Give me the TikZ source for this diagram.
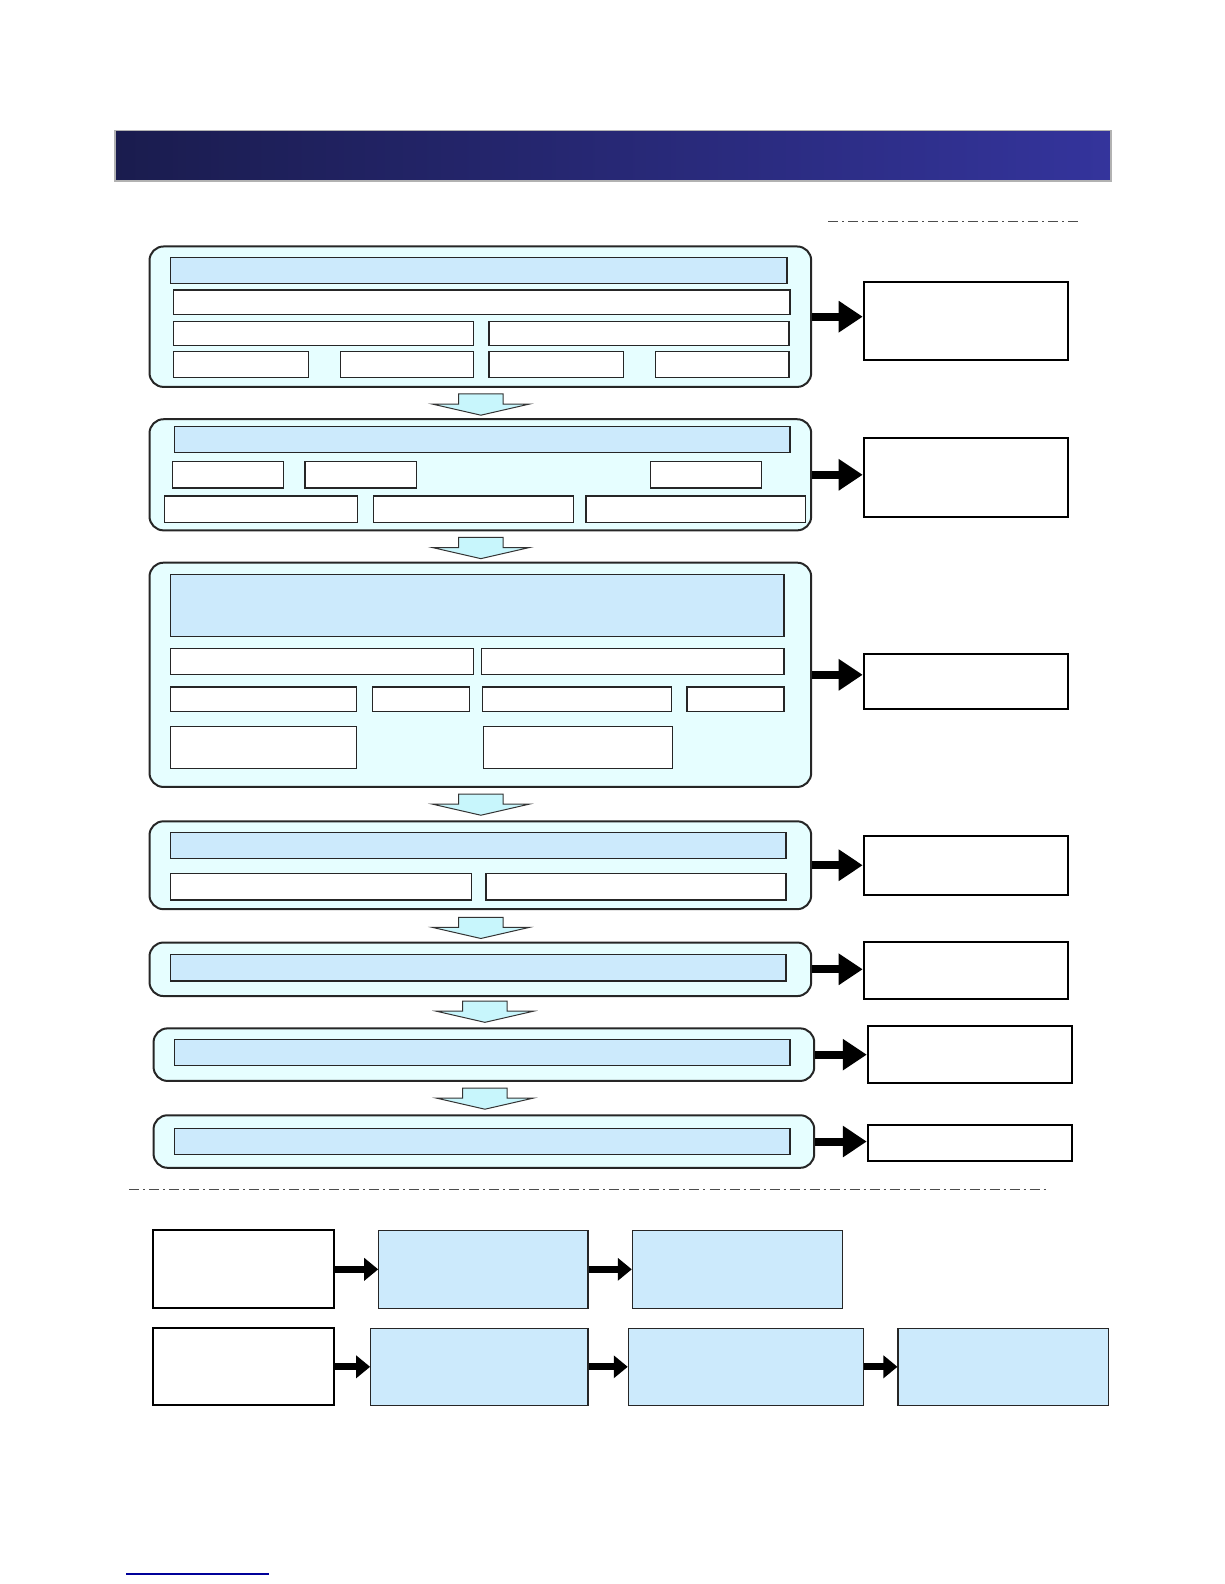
\documentclass[tikz,border=0pt]{standalone}
\usetikzlibrary{arrows.meta,fit,calc}
\definecolor{stagefill}{RGB}{230,254,255}
\definecolor{barfill}{RGB}{204,234,252}
\definecolor{downfill}{RGB}{200,246,252}
\definecolor{navyL}{RGB}{26,28,78}
\definecolor{navyR}{RGB}{52,52,156}
\tikzset{every picture/.style={line width=0.75pt}}
\tikzset{
  stage/.style={draw=black!85, line width=1pt, fill=stagefill, rounded corners=7pt, inner sep=0pt},
  barbox/.style={draw=black!85, line width=0.6pt, fill=barfill, inner sep=0pt},
  whitebox/.style={draw=black!85, line width=0.6pt, fill=white, inner sep=0pt},
  outbox/.style={draw=black, line width=1pt, fill=white, inner sep=0pt},
  fatarrow/.style={line width=4pt, -{Triangle[length=12pt,width=15pt]}},
  smallarrow/.style={line width=3.5pt, -{Triangle[length=7pt,width=11pt]}},
  downarrow/.style={draw=black!80, line width=0.5pt, fill=downfill},
  dashdot/.style={draw=black!70, line width=0.5pt, dash pattern=on 5pt off 2pt on 1pt off 2pt}
}
% box from two corners
\newcommand{\blk}[6]{\node[#2, fit={(#3,#4) (#5,#6)}] (#1) {};}

\begin{document}
\begin{tikzpicture}[x=0.50495pt, y=-0.50495pt]
    \useasboundingbox (0,0) rectangle (1212,1568);
    % title bar
    \shade[left color=navyL, right color=navyR, draw=gray!60, line width=0.8pt]
        (114,129) rectangle (1100,179);
    \draw[dashdot] (820,219) -- (1070,219);

    % stage 1
    \blk{s1}{stage}{148}{244}{803}{383}
    \blk{s1a}{barbox}{169}{255}{779}{281}
    \blk{s1b}{whitebox}{172}{287}{782}{311}
    \blk{s1c}{whitebox}{172}{318}{469}{342}
    \blk{s1d}{whitebox}{484}{318}{781}{342}
    \blk{s1e}{whitebox}{172}{348}{305}{374}
    \blk{s1f}{whitebox}{337}{348}{469}{374}
    \blk{s1g}{whitebox}{484}{348}{617}{374}
    \blk{s1h}{whitebox}{649}{348}{781}{374}
    \blk{o1}{outbox}{855}{279}{1057}{356}

    % stage 2
    \blk{s2}{stage}{148}{415}{803}{525}
    \blk{s2a}{barbox}{173}{422}{782}{448}
    \blk{s2b}{whitebox}{171}{457}{281}{483}
    \blk{s2c}{whitebox}{302}{457}{412}{483}
    \blk{s2d}{whitebox}{644}{457}{754}{483}
    \blk{s2e}{whitebox}{163}{491}{354}{517}
    \blk{s2f}{whitebox}{370}{491}{568}{517}
    \blk{s2g}{whitebox}{580}{491}{797}{517}
    \blk{o2}{outbox}{855}{434}{1057}{512}

    % stage 3
    \blk{s3}{stage}{148}{557}{803}{779}
    \blk{s3a}{barbox}{169}{569}{776}{630}
    \blk{s3b}{whitebox}{169}{642}{469}{668}
    \blk{s3c}{whitebox}{477}{642}{776}{668}
    \blk{s3d}{whitebox}{169}{680}{353}{704}
    \blk{s3e}{whitebox}{369}{680}{465}{704}
    \blk{s3f}{whitebox}{478}{680}{665}{704}
    \blk{s3g}{whitebox}{680}{680}{776}{704}
    \blk{s3h}{whitebox}{169}{719}{353}{761}
    \blk{s3i}{whitebox}{479}{719}{666}{761}
    \blk{o3}{outbox}{855}{647}{1057}{702}

    % stage 4
    \blk{s4}{stage}{148}{813}{803}{900}
    \blk{s4a}{barbox}{169}{824}{778}{850}
    \blk{s4b}{whitebox}{169}{865}{467}{891}
    \blk{s4c}{whitebox}{481}{865}{778}{891}
    \blk{o4}{outbox}{855}{828}{1057}{886}

    % stages 5-7
    \blk{s5}{stage}{148}{933}{803}{986}
    \blk{s5a}{barbox}{169}{945}{778}{971}
    \blk{o5}{outbox}{855}{932}{1057}{989}
    \blk{s6}{stage}{152}{1018}{806}{1070}
    \blk{s6a}{barbox}{173}{1029}{782}{1055}
    \blk{o6}{outbox}{859}{1016}{1061}{1072}
    \blk{s7}{stage}{152}{1104}{806}{1156}
    \blk{s7a}{barbox}{173}{1117}{782}{1143}
    \blk{o7}{outbox}{859}{1114}{1061}{1149}

    % arrows to the right boxes
    \foreach \i in {1,...,7}
        \draw[fatarrow] (s\i.east) -- (s\i.east -| o\i.west);

    % block arrows between stages
    \foreach \cx/\ty in {476/390, 476/532, 476/786, 476/908, 480/991, 480/1077}
        \draw[downarrow] (\cx-22,\ty) -- (\cx+22,\ty) -- (\cx+22,\ty+10) -- (\cx+48,\ty+10)
            -- (\cx,\ty+21) -- (\cx-48,\ty+10) -- (\cx-22,\ty+10) -- cycle;

    \draw[dashdot] (128,1177) -- (1038,1177);

    % bottom rows
    \blk{b1}{outbox}{151}{1218}{331}{1295}
    \blk{b2}{barbox}{375}{1218}{582}{1295}
    \blk{b3}{barbox}{626}{1218}{834}{1295}
    \blk{c1}{outbox}{151}{1315}{331}{1391}
    \blk{c2}{barbox}{367}{1315}{582}{1391}
    \blk{c3}{barbox}{622}{1315}{855}{1391}
    \blk{c4}{barbox}{889}{1315}{1097}{1391}
    \draw[smallarrow] (b1.east) -- (b2.west);
    \draw[smallarrow] (b2.east) -- (b3.west);
    \draw[smallarrow] (c1.east) -- (c2.west);
    \draw[smallarrow] (c2.east) -- (c3.west);
    \draw[smallarrow] (c3.east) -- (c4.west);

    \draw[blue!60!black, line width=0.6pt] (125,1558) -- (266,1558);
\end{tikzpicture}
\end{document}
